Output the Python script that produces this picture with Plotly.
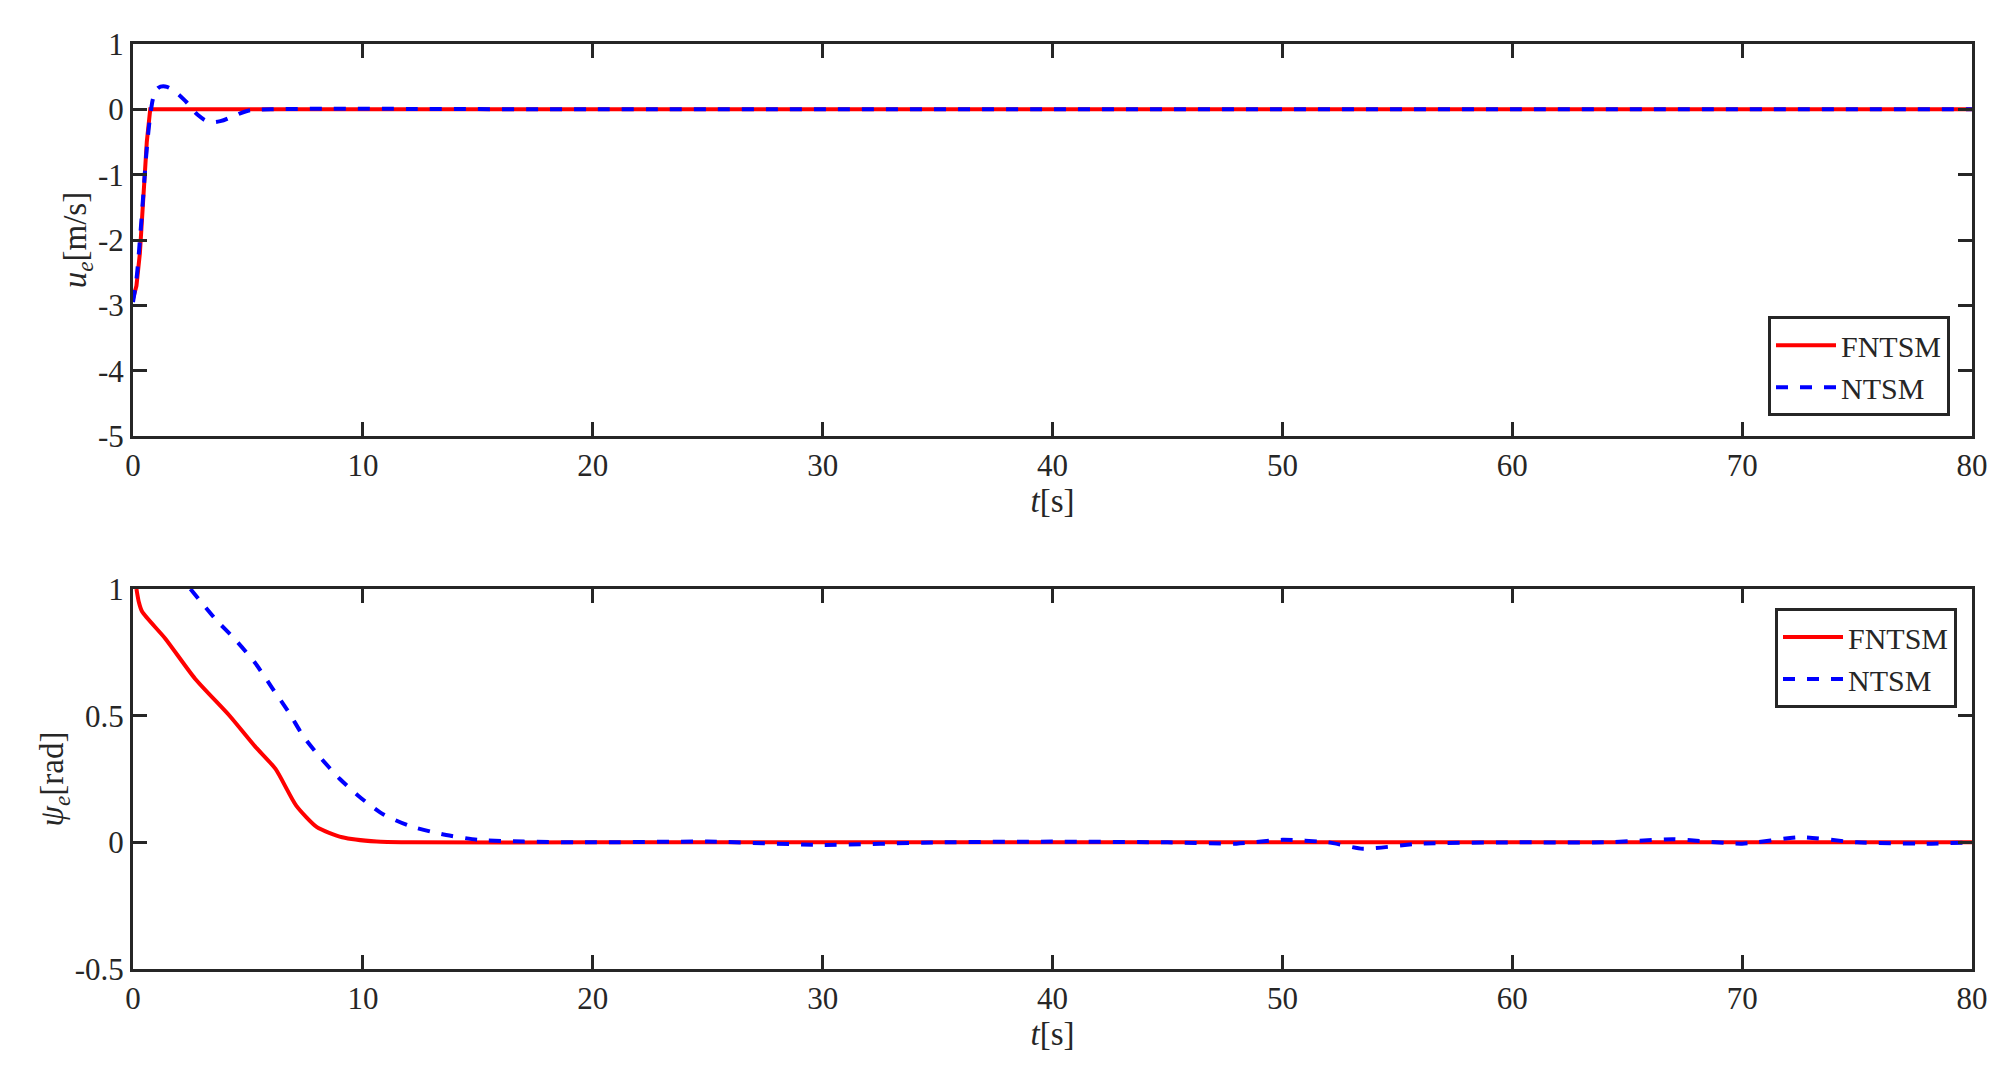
import plotly.graph_objects as go

t_u_f = [0, 0.15, 0.3, 0.45, 0.6, 0.75, 1.0, 5, 20, 40, 60, 80]
u_f = [-2.9, -2.7, -2.2, -1.3, -0.5, 0.0, 0.0, 0, 0, 0, 0, 0]
t_u_n = [0, 0.15, 0.3, 0.45, 0.6, 0.75, 0.9, 1.1, 1.4, 1.8, 2.3, 2.8, 3.3, 3.8, 4.4, 5.0, 6, 20, 40, 60, 80]
u_n = [-2.95, -2.6, -2.0, -1.3, -0.6, -0.1, 0.2, 0.33, 0.35, 0.28, 0.12, -0.08, -0.19, -0.18, -0.1, -0.02, 0, 0, 0, 0, 0]

t_p_f = [0.15, 0.25, 0.4, 1.4, 2.7, 4.2, 5.3, 6.2, 7.1, 8.0, 9.1, 10.6, 12, 20, 40, 60, 80]
p_f = [1.0, 0.95, 0.91, 0.805, 0.646, 0.5, 0.38, 0.29, 0.145, 0.06, 0.02, 0.003, 0, 0, 0, 0, 0]
t_p_n = [2.5, 3.6, 4.45, 5.3, 6.05, 6.8, 7.4, 8.1, 9.0, 9.85, 10.9, 12, 13.4, 15, 17, 20, 25, 30, 35, 40, 45, 48, 50, 52, 53.5, 56, 60, 64, 67, 70, 72.5, 75, 78, 80]
p_n = [1.0, 0.88, 0.80, 0.71, 0.61, 0.51, 0.42, 0.34, 0.25, 0.18, 0.11, 0.066, 0.033, 0.01, 0.003, 0.0, 0.003, -0.01, 0.0, 0.003, 0.0, -0.005, 0.01, 0.0, -0.025, -0.005, 0.0, 0.0, 0.012, -0.005, 0.02, 0.0, -0.005, 0.0]

x_ticks = [0, 10, 20, 30, 40, 50, 60, 70, 80]
u_ticks = [-5, -4, -3, -2, -1, 0, 1]
u_labels = ["-5", "-4", "-3", "-2", "-1", "0", "1"]
p_ticks = [-0.5, 0, 0.5, 1]
p_labels = ["-0.5", "0", "0.5", "1"]

RED = "#ff0000"; BLUE = "#0000ff"; AX = "#262626"
FONT = "Liberation Serif"

fig = go.Figure()
fig.add_trace(go.Scatter(x=t_u_f, y=u_f, mode="lines", name="FNTSM", line=dict(color=RED, width=4), xaxis="x", yaxis="y", legend="legend"))
fig.add_trace(go.Scatter(x=t_u_n, y=u_n, mode="lines", name="NTSM", line=dict(color=BLUE, width=4, dash="dash", shape="spline"), xaxis="x", yaxis="y", legend="legend"))
fig.add_trace(go.Scatter(x=t_p_f, y=p_f, mode="lines", name="FNTSM", line=dict(color=RED, width=4, shape="spline", smoothing=0.6), xaxis="x2", yaxis="y2", legend="legend2"))
fig.add_trace(go.Scatter(x=t_p_n, y=p_n, mode="lines", name="NTSM", line=dict(color=BLUE, width=4, dash="dash", shape="spline", smoothing=0.6), xaxis="x2", yaxis="y2", legend="legend2"))

axcommon = dict(showgrid=False, zeroline=False, showline=True, linecolor=AX, linewidth=3, mirror="ticks",
                ticks="inside", ticklen=14, tickwidth=3, tickcolor=AX, automargin=False,
                tickfont=dict(family=FONT, size=31, color=AX))
tf = dict(family=FONT, size=33, color=AX)
xd = [0.0625, 0.982]
fig.update_layout(
    width=2000, height=1082, margin=dict(l=0, r=0, t=0, b=0, autoexpand=False),
    paper_bgcolor="white", plot_bgcolor="white",
    font=dict(family=FONT, color=AX),
    xaxis=dict(domain=xd, anchor="y", range=[0, 80], tickvals=x_ticks,
               title=dict(text="<i>t</i>[s]", font=tf, standoff=4), **axcommon),
    yaxis=dict(domain=[0.6044, 0.9667], anchor="x", range=[-5, 1], tickvals=u_ticks, ticktext=u_labels,
               title=dict(text="<i>u<sub>e</sub></i>[m/s]", font=tf, standoff=2), **axcommon),
    xaxis2=dict(domain=xd, anchor="y2", range=[0, 80], tickvals=x_ticks,
                title=dict(text="<i>t</i>[s]", font=tf, standoff=4), **axcommon),
    yaxis2=dict(domain=[0.1118, 0.4630], anchor="x2", range=[-0.5, 1], tickvals=p_ticks, ticktext=p_labels,
                title=dict(text="<i>ψ<sub>e</sub></i>[rad]", font=tf, standoff=2), **axcommon),
    legend=dict(x=0.971, y=0.715, xanchor="right", yanchor="top", bgcolor="white",
                bordercolor=AX, borderwidth=3, font=dict(family=FONT, size=30, color=AX),
                tracegroupgap=0, itemwidth=60),
    legend2=dict(x=0.9745, y=0.4455, xanchor="right", yanchor="top", bgcolor="white",
                 bordercolor=AX, borderwidth=3, font=dict(family=FONT, size=30, color=AX),
                 tracegroupgap=0, itemwidth=60),
)
fig.write_html("out.html")
